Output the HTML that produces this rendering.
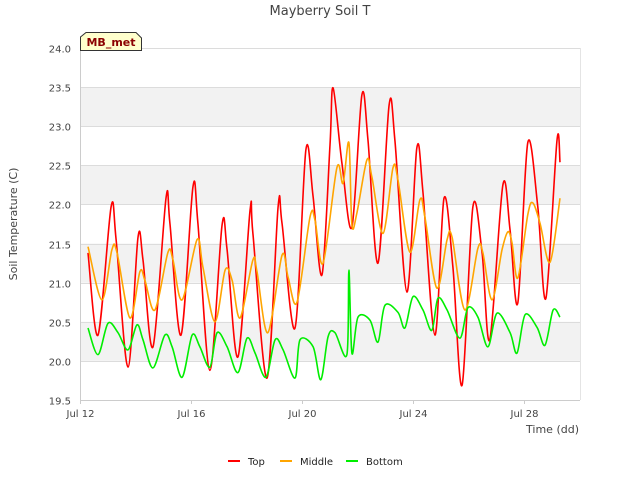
<!DOCTYPE html>
<html><head><meta charset="utf-8">
<style>
body{margin:0;background:#fff;font-family:"Liberation Sans","DejaVu Sans",sans-serif;}
svg text{font-family:"DejaVu Sans","Liberation Sans",sans-serif;}
</style></head>
<body>
<svg id="chart" width="640" height="480" viewBox="0 0 640 480" xmlns="http://www.w3.org/2000/svg">
<text x="320" y="15" text-anchor="middle" font-size="13" fill="#444">Mayberry Soil T</text>
<g id="bands"></g>
<g id="grid"></g>
<g id="series"></g>
<g id="axes"></g>
<text transform="translate(17,224) rotate(-90)" text-anchor="middle" font-size="11" fill="#444">Soil Temperature (C)</text>
<text x="579" y="433" text-anchor="end" font-size="11" fill="#444">Time (dd)</text>
<g>
<path d="M80.5,50.5 L80.5,37 L86,32.5 L136,32.5 L141.5,38 L141.5,50.5 Z" fill="#ffffcc" stroke="#333" stroke-width="1"/>
<text x="111" y="46" text-anchor="middle" font-size="11" font-weight="bold" fill="#8b0000">MB_met</text>
</g>
<g id="legend"></g>
</svg>
<script>
const yTicks=[19.5,20.0,20.5,21.0,21.5,22.0,22.5,23.0,23.5,24.0];
const xTickDays=[12,16,20,24,28];
const xTickLabels=["Jul 12","Jul 16","Jul 20","Jul 24","Jul 28"];
const seriesNames=["Top","Middle","Bottom"];
const seriesColors=["#ff0000","#ffa500","#00ee00"];
const topDays=[12.29,12.65,13.12,13.30,13.73,14.09,14.27,14.63,15.10,15.24,15.64,16.07,16.25,16.68,17.12,17.30,17.69,18.13,18.23,18.74,19.14,19.28,19.75,20.14,20.40,20.72,21.01,21.12,21.44,21.80,22.16,22.38,22.74,23.14,23.35,23.78,24.14,24.36,24.79,25.12,25.44,25.77,26.16,26.49,26.77,27.24,27.50,27.78,28.14,28.50,28.79,29.19,29.30];
const topVals=[21.38,20.33,21.97,21.55,19.92,21.58,21.29,20.18,22.08,21.76,20.33,22.22,21.76,19.88,21.74,21.42,20.05,21.93,21.63,19.78,21.97,21.76,20.42,22.70,22.10,21.10,22.76,23.49,22.53,21.71,23.40,22.82,21.25,23.27,22.82,20.88,22.72,22.15,20.33,22.08,21.20,19.69,21.97,21.38,20.27,22.25,21.67,20.74,22.79,21.97,20.80,22.82,22.54];
const midDays=[12.29,12.79,13.15,13.33,13.80,14.16,14.34,14.70,15.17,15.35,15.68,16.22,16.43,16.86,17.23,17.48,17.77,18.23,18.38,18.77,19.28,19.50,19.82,20.29,20.47,20.76,21.26,21.48,21.69,21.80,21.98,22.34,22.52,22.92,23.28,23.46,23.89,24.25,24.43,24.86,25.23,25.41,25.87,26.34,26.52,26.85,27.21,27.42,27.57,27.78,28.14,28.32,28.58,28.94,29.30];
const midVals=[21.46,20.78,21.42,21.39,20.55,21.14,21.03,20.65,21.39,21.29,20.78,21.55,21.20,20.50,21.16,21.03,20.55,21.29,21.14,20.36,21.35,21.07,20.75,21.84,21.80,21.25,22.47,22.27,22.79,21.74,21.89,22.57,22.35,21.63,22.47,22.31,21.39,22.06,21.84,20.93,21.55,21.58,20.65,21.44,21.38,20.78,21.42,21.65,21.51,21.06,21.87,22.02,21.76,21.26,22.08];
const botDays=[12.29,12.65,13.01,13.37,13.73,14.05,14.27,14.63,15.06,15.32,15.68,16.04,16.32,16.68,16.94,17.30,17.69,18.02,18.31,18.70,19.03,19.32,19.75,19.93,20.40,20.68,20.94,21.19,21.62,21.69,21.80,22.02,22.45,22.74,22.99,23.46,23.71,24.00,24.36,24.68,24.90,25.23,25.69,25.98,26.34,26.70,27.03,27.50,27.75,28.04,28.47,28.76,29.05,29.30];
const botVals=[20.42,20.08,20.48,20.36,20.14,20.46,20.27,19.91,20.33,20.18,19.79,20.33,20.18,19.92,20.36,20.18,19.85,20.29,20.10,19.79,20.27,20.14,19.78,20.27,20.18,19.76,20.31,20.36,20.08,21.16,20.10,20.56,20.52,20.24,20.71,20.62,20.42,20.82,20.65,20.39,20.80,20.65,20.29,20.68,20.56,20.18,20.61,20.36,20.10,20.59,20.43,20.20,20.65,20.56];

const NS="http://www.w3.org/2000/svg";
const L=80,R=580,T=48,B=400,xMin=12,xMax=30.02,yMin=19.5,yMax=24;
function xs(d){return L+(d-xMin)/(xMax-xMin)*(R-L);}
function ys(v){return B-(v-yMin)/(yMax-yMin)*(B-T);}
function mk(tag,attrs,parent){const e=document.createElementNS(NS,tag);for(const k in attrs)e.setAttribute(k,attrs[k]);parent.appendChild(e);return e;}
const bands=document.getElementById('bands'),grid=document.getElementById('grid'),axes=document.getElementById('axes'),ser=document.getElementById('series'),leg=document.getElementById('legend');
mk('rect',{x:L,y:T,width:R-L,height:B-T,fill:'#fff'},bands);
for(let i=0;i<yTicks.length-1;i++){
  if(i%2===1){const r=mk('rect',{x:L,y:ys(yTicks[i+1]),width:R-L,height:ys(yTicks[i])-ys(yTicks[i+1]),fill:'#f2f2f2'},bands);
  
  }
}
yTicks.forEach(v=>{
  const y=Math.round(ys(v))+0.5;
  const g=mk('line',{x1:L,x2:R,y1:y,y2:y,stroke:'#dcdcdc','stroke-width':1},grid);
  
  
  const t=mk('text',{x:L-9,y:y+4,'text-anchor':'end','font-size':10,fill:'#444'},axes);
  
  
  t.textContent=v.toFixed(1);
});
mk('line',{x1:L+0.5,x2:L+0.5,y1:T,y2:B,stroke:'#ccc'},axes);
mk('line',{x1:R+0.5,x2:R+0.5,y1:T,y2:B,stroke:'#e4e4e4'},axes);
mk('line',{x1:L,x2:R,y1:B+0.5,y2:B+0.5,stroke:'#ccc'},axes);
xTickDays.forEach((d,i)=>{
  const x=Math.round(xs(d))+0.5;
  mk('line',{x1:x,x2:x,y1:B,y2:B+4,stroke:'#ccc'},axes);
  const t=mk('text',{x:x,y:B+17,'text-anchor':'middle','font-size':10,fill:'#444'},axes);
  
  
  t.textContent=xTickLabels[i];
});
function smoothPath(P){
  let d='M'+P[0][0].toFixed(1)+','+P[0][1].toFixed(1);
  for(let i=0;i<P.length-1;i++){
    const p0=P[Math.max(0,i-1)],p1=P[i],p2=P[i+1],p3=P[Math.min(P.length-1,i+2)];
    const t=0.16;
    const c1=[p1[0]+(p2[0]-p0[0])*t,p1[1]+(p2[1]-p0[1])*t];
    const c2=[p2[0]-(p3[0]-p1[0])*t,p2[1]-(p3[1]-p1[1])*t];
    d+=' C'+c1[0].toFixed(1)+','+c1[1].toFixed(1)+' '+c2[0].toFixed(1)+','+c2[1].toFixed(1)+' '+p2[0].toFixed(1)+','+p2[1].toFixed(1);
  }
  return d;
}
const data=[[topDays,topVals],[midDays,midVals],[botDays,botVals]];
const keys=['top','middle','bottom'];
data.forEach((s,k)=>{
  const P=s[0].map((d,i)=>[xs(d),ys(s[1][i])]);
  const p=mk('path',{d:smoothPath(P),fill:'none',stroke:seriesColors[k],'stroke-width':1.6,'stroke-linejoin':'round'},ser);
  
  
});
const lx=[228,280,346];
seriesNames.forEach((n,k)=>{
  const g=mk('g',{},leg);
  
  
  mk('line',{x1:lx[k],x2:lx[k]+12,y1:461,y2:461,stroke:seriesColors[k],'stroke-width':2},g);
  const t=mk('text',{x:lx[k]+20,y:465,'font-size':10,fill:'#222'},g);
  t.textContent=n;
});
</script>
</body></html>
